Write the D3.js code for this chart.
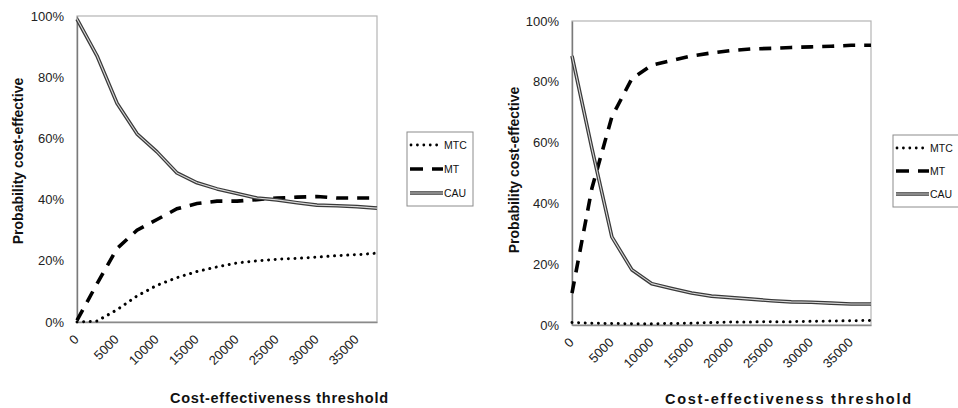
<!DOCTYPE html>
<html>
<head>
<meta charset="utf-8">
<script src="https://cdn.jsdelivr.net/npm/d3@7"></script>
<style>
  html, body { margin: 0; padding: 0; background: #fff; }
  svg { display: block; font-family: "Liberation Sans", Arial, sans-serif; }
</style>
</head>
<body>
<svg id="chart" width="958" height="408"></svg>
<script>
// Willingness-to-pay thresholds (one point every 2500)
const thresholds = [0, 2500, 5000, 7500, 10000, 12500, 15000, 17500, 20000,
                    22500, 25000, 27500, 30000, 32500, 35000, 37500];
const xTickValues = [0, 5000, 10000, 15000, 20000, 25000, 30000, 35000];
const yTickValues = [0, 0.2, 0.4, 0.6, 0.8, 1.0];
const seriesNames = ["MTC", "MT", "CAU"];

// Left panel: probability each strategy is cost-effective
const leftMTC = [0.000, 0.003, 0.040, 0.085, 0.120, 0.145, 0.165, 0.180, 0.193,
                 0.200, 0.205, 0.208, 0.212, 0.217, 0.220, 0.225];
const leftMT  = [0.005, 0.125, 0.240, 0.300, 0.335, 0.370, 0.387, 0.395, 0.395,
                 0.400, 0.405, 0.408, 0.410, 0.405, 0.405, 0.405];
const leftCAU = [0.990, 0.870, 0.715, 0.615, 0.556, 0.487, 0.455, 0.435, 0.420,
                 0.405, 0.399, 0.390, 0.382, 0.380, 0.377, 0.372];

// Right panel
const rightMTC = [0.008, 0.006, 0.005, 0.004, 0.004, 0.005, 0.006, 0.008, 0.010,
                  0.010, 0.011, 0.011, 0.012, 0.013, 0.014, 0.015];
const rightMT  = [0.105, 0.450, 0.685, 0.810, 0.855, 0.870, 0.885, 0.895, 0.903,
                  0.908, 0.910, 0.913, 0.915, 0.917, 0.920, 0.920];
const rightCAU = [0.885, 0.580, 0.290, 0.182, 0.136, 0.120, 0.105, 0.095, 0.090,
                  0.085, 0.080, 0.076, 0.075, 0.072, 0.069, 0.069];

const svg = d3.select("#chart");

const styles = {
  MTC: { dash: "0.01 6.6", width: 3, cap: "round" },
  MT:  { dash: "12 9", width: 3.6, cap: "butt" }
};

function drawLine(g, data, x, y, name) {
  const line = d3.line().x((d, i) => x(thresholds[i])).y(d => y(d));
  if (name === "CAU") {
    g.append("path").attr("d", line(data)).attr("fill", "none")
      .attr("stroke", "#3a3a3a").attr("stroke-width", 3.6).attr("stroke-linejoin", "round");
    g.append("path").attr("d", line(data)).attr("fill", "none")
      .attr("stroke", "#d8d8d8").attr("stroke-width", 1.1).attr("stroke-linejoin", "round");
  } else {
    const s = styles[name];
    g.append("path").attr("d", line(data)).attr("fill", "none")
      .attr("stroke", "#000").attr("stroke-width", s.width)
      .attr("stroke-dasharray", s.dash).attr("stroke-linecap", s.cap);
  }
}

function panel(opt) {
  const { left, right, top, bottom } = opt;
  const x = d3.scaleLinear().domain([0, 37500]).range([left, right]);
  const y = d3.scaleLinear().domain([0, 1]).range([bottom, top]);
  const g = svg.append("g");

  // plot frame
  g.append("rect").attr("x", left).attr("y", top)
    .attr("width", right - left).attr("height", bottom - top)
    .attr("fill", "none").attr("stroke", "#b4b4b4").attr("stroke-width", 1.2);

  // y axis
  const yAxis = d3.axisLeft(y).tickValues(yTickValues)
    .tickFormat(d3.format(".0%")).tickSize(0).tickPadding(13);
  const ya = g.append("g").attr("transform", `translate(${left},0)`).call(yAxis);
  ya.select(".domain").attr("stroke", "#7a7a7a").attr("stroke-width", 1.4);
  ya.selectAll("text").attr("font-size", 13).attr("fill", "#222")
    .attr("font-family", "Liberation Sans, Arial, sans-serif");

  // x axis, labels slanted at 45 degrees
  const xAxis = d3.axisBottom(x).tickValues(xTickValues)
    .tickFormat(d3.format("d")).tickSize(0);
  const xa = g.append("g").attr("transform", `translate(0,${bottom})`).call(xAxis);
  xa.select(".domain").attr("stroke", "#8a8a8a").attr("stroke-width", 1.4);
  xa.selectAll("text").attr("font-size", 13).attr("fill", "#222")
    .attr("font-family", "Liberation Sans, Arial, sans-serif")
    .attr("text-anchor", "end").attr("y", 0).attr("dy", "0.35em")
    .attr("transform", "translate(-1,15) rotate(-45)");

  // series
  drawLine(g, opt.mtc, x, y, "MTC");
  drawLine(g, opt.mt, x, y, "MT");
  drawLine(g, opt.cau, x, y, "CAU");

  // axis titles
  g.append("text")
    .attr("transform", `translate(${opt.yTitleX},${opt.yTitleY}) rotate(-90)`)
    .attr("text-anchor", "middle").attr("font-weight", "bold").attr("font-size", 14)
    .attr("fill", "#111").text("Probability cost-effective");
  g.append("text")
    .attr("x", opt.xTitleX).attr("y", opt.xTitleY)
    .attr("font-weight", "bold").attr("font-size", 14.5).attr("fill", "#111")
    .attr("textLength", opt.xTitleLen).attr("lengthAdjust", "spacing")
    .text("Cost-effectiveness threshold");

  // legend
  const L = opt.legend;
  g.append("rect").attr("x", L.x).attr("y", L.y).attr("width", L.w).attr("height", L.h)
    .attr("fill", "#fff").attr("stroke", "#8c8c8c").attr("stroke-width", 1);
  seriesNames.forEach((name, i) => {
    const cy = L.y + L.first + i * L.step;
    const x0 = L.x + 3, x1 = L.x + 36;
    if (name === "CAU") {
      g.append("line").attr("x1", x0).attr("x2", x1).attr("y1", cy).attr("y2", cy)
        .attr("stroke", "#3a3a3a").attr("stroke-width", 3.6);
      g.append("line").attr("x1", x0).attr("x2", x1).attr("y1", cy).attr("y2", cy)
        .attr("stroke", "#d8d8d8").attr("stroke-width", 1.1);
    } else if (name === "MT") {
      g.append("line").attr("x1", x0).attr("x2", x1).attr("y1", cy).attr("y2", cy)
        .attr("stroke", "#000").attr("stroke-width", 3.6).attr("stroke-dasharray", "13 9");
    } else {
      g.append("line").attr("x1", x0 + 1).attr("x2", x1).attr("y1", cy).attr("y2", cy)
        .attr("stroke", "#000").attr("stroke-width", 2.8).attr("stroke-dasharray", "0.01 6.4")
        .attr("stroke-linecap", "round");
    }
    g.append("text").attr("x", x1 + 1).attr("y", cy).attr("dy", "0.35em")
      .attr("font-size", 10.5).attr("fill", "#111").text(name);
  });
}

panel({
  left: 77, right: 377, top: 16, bottom: 322,
  mtc: leftMTC, mt: leftMT, cau: leftCAU,
  yTitleX: 23, yTitleY: 161,
  xTitleX: 170, xTitleY: 403, xTitleLen: 218,
  legend: { x: 407, y: 132, w: 66, h: 74, first: 13, step: 24 }
});

panel({
  left: 572, right: 871, top: 21, bottom: 325,
  mtc: rightMTC, mt: rightMT, cau: rightCAU,
  yTitleX: 519, yTitleY: 170,
  xTitleX: 665, xTitleY: 404, xTitleLen: 246,
  legend: { x: 893, y: 135, w: 80, h: 72, first: 13, step: 23 }
});
</script>
</body>
</html>
